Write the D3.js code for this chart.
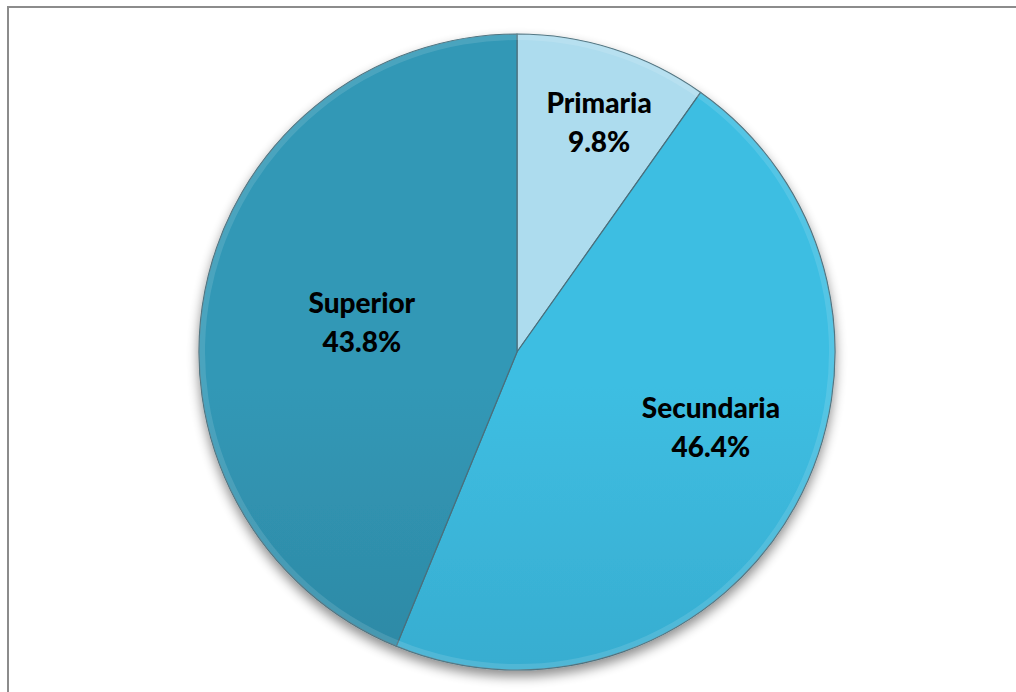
<!DOCTYPE html>
<html>
<head>
<meta charset="utf-8">
<script src="https://cdn.jsdelivr.net/npm/d3@7"></script>
<style>
body { margin:0; background:#fff; }
svg { display:block; }
</style>
</head>
<body>
<div id="chart"></div>
<script>
// data
var categories = ["Primaria", "Secundaria", "Superior"];
var values = [9.8, 46.4, 43.8];
var labels = ["9.8%", "46.4%", "43.8%"];

var w = 1016, h = 692;
var cx = 517, cy = 352, radius = 318;
// colours: top / bottom of each slice
var colTop = ["#addcee", "#3ebee2", "#3298b6"];
var colBot = ["#8fb2bf", "#2f98ba", "#277690"];
// Excel "best fit" label placement: radius fraction + angle shift (deg)
var labelFrac = [0.783, 0.648, 0.5];
var labelShift = [1.6, -9, 1.5];

var svg = d3.select("#chart").append("svg")
  .attr("width", w).attr("height", h);

var defs = svg.append("defs");
categories.forEach(function(c, i) {
  var g = defs.append("linearGradient")
    .attr("id", "grad" + i)
    .attr("gradientUnits", "userSpaceOnUse")
    .attr("x1", 0).attr("y1", cy - radius).attr("x2", 0).attr("y2", cy + radius);
  g.append("stop").attr("offset", "0%").attr("stop-color", colTop[i]);
  g.append("stop").attr("offset", "100%").attr("stop-color", colBot[i]);
});
var sh = defs.append("filter").attr("id", "shadow")
  .attr("x", "-10%").attr("y", "-10%").attr("width", "120%").attr("height", "125%");
sh.append("feGaussianBlur").attr("in", "SourceAlpha").attr("stdDeviation", 6);
sh.append("feOffset").attr("dx", 0).attr("dy", 6).attr("result", "b");
sh.append("feComponentTransfer").append("feFuncA").attr("type", "linear").attr("slope", 0.45);
var mg = sh.append("feMerge");
mg.append("feMergeNode");
mg.append("feMergeNode").attr("in", "SourceGraphic");

// frame (cut at right & bottom like the original)
svg.append("rect")
  .attr("x", 8).attr("y", 7).attr("width", 1200).attr("height", 900)
  .attr("fill", "none").attr("stroke", "#8c8c8c").attr("stroke-width", 2);

var pie = d3.pie().sort(null).value(function(d) { return d; });
var arcs = pie(values);
var arc = d3.arc().innerRadius(0).outerRadius(radius);
var bevel = d3.arc().innerRadius(radius - 6).outerRadius(radius);

var g = svg.append("g").attr("transform", "translate(" + cx + "," + cy + ")");

var pieG = g.append("g").attr("filter", "url(#shadow)");
pieG.selectAll("path.slice")
  .data(arcs)
  .enter()
  .append("path")
  .attr("class", "slice")
  .attr("d", arc)
  .attr("fill", function(d, i) { return "url(#grad" + i + ")"; })
  .attr("stroke", "#4a6f7c")
  .attr("stroke-width", 1.2)
  .attr("stroke-linejoin", "round");

// soft bevel rim
g.selectAll("path.rim")
  .data(arcs)
  .enter()
  .append("path")
  .attr("class", "rim")
  .attr("d", bevel)
  .attr("fill", "#ffffff")
  .attr("opacity", 0.12);

// labels
var lab = g.selectAll("text.lab")
  .data(arcs)
  .enter()
  .append("text")
  .attr("class", "lab")
  .attr("text-anchor", "middle")
  .attr("font-family", "Lato, 'Open Sans', sans-serif")
  .attr("font-weight", "900")
  .attr("font-size", "28px")
  .attr("fill", "#000")
  .attr("transform", function(d, i) {
    var a = (d.startAngle + d.endAngle) / 2 + labelShift[i] * Math.PI / 180;
    var r = radius * labelFrac[i];
    return "translate(" + (r * Math.sin(a)) + "," + (-r * Math.cos(a)) + ")";
  });
lab.append("tspan").attr("x", 0).attr("y", -4).text(function(d, i) { return categories[i]; });
lab.append("tspan").attr("x", 0).attr("y", 35).text(function(d, i) { return labels[i]; });
</script>
</body>
</html>
